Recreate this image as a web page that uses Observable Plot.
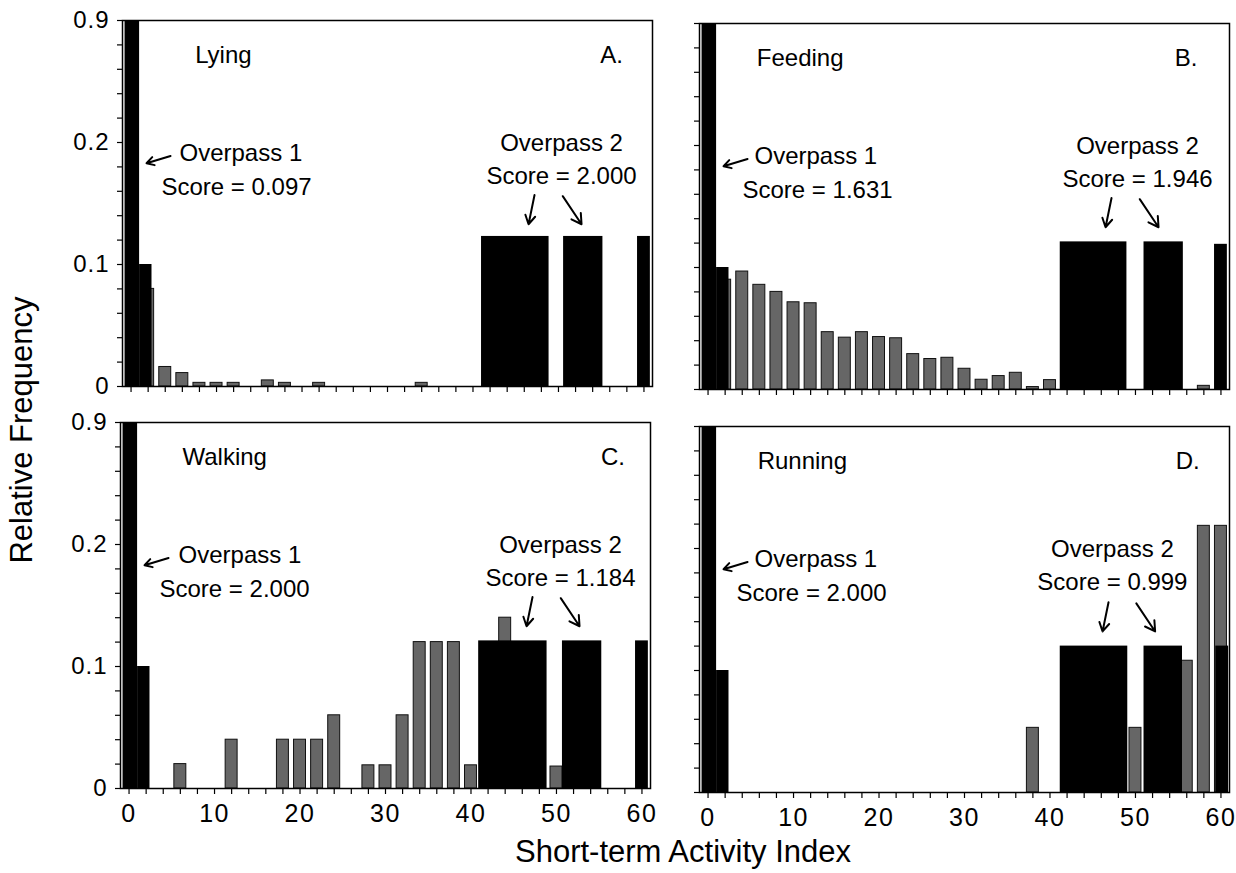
<!DOCTYPE html>
<html>
<head>
<meta charset="utf-8">
<script src="https://cdn.jsdelivr.net/npm/d3@7"></script>
<script src="https://cdn.jsdelivr.net/npm/@observablehq/plot@0.6"></script>
<style>
  body { margin: 0; background: #fff; font-family: "Liberation Sans", Arial, Helvetica, sans-serif; color: #000; }
  #chart { position: relative; width: 1236px; height: 873px; overflow: hidden; background: #fff; }
  #chart svg { position: absolute; overflow: visible; }
  [aria-label="x-axis tick label"] text { letter-spacing: 1.5px; }
  [aria-label="y-axis tick label"] text { letter-spacing: 1px; }
  .ytitle { position: absolute; left: 21px; top: 430px; transform: translate(-50%, -50%) rotate(-90deg); font-size: 31px; white-space: nowrap; line-height: 1; }
  .xtitle { position: absolute; left: 683px; top: 836px; transform: translateX(-50%); font-size: 31px; white-space: nowrap; line-height: 1; }
</style>
</head>
<body>
<div id="chart"></div>
<script>
// ---------- data ----------
const behaviours = ["Lying", "Feeding", "Walking", "Running"];
const panelLetters = ["A.", "B.", "C.", "D."];
const overpass1Scores = ["0.097", "1.631", "2.000", "2.000"];
const overpass2Scores = ["2.000", "1.946", "1.184", "0.999"];

// hatched (grey) bars: short-term activity index and relative frequency
const lyingIndex   = [2, 4, 6, 8, 10, 12, 16, 18, 22, 34];
const lyingFreq    = [0.08, 0.016, 0.011, 0.003, 0.003, 0.003, 0.005, 0.003, 0.003, 0.003];
const feedingIndex = [2, 4, 6, 8, 10, 12, 14, 16, 18, 20, 22, 24, 26, 28, 30, 32, 34, 36, 38, 40, 58];
const feedingFreq  = [0.09, 0.0967, 0.0858, 0.080, 0.0715, 0.0707, 0.047, 0.0425, 0.047, 0.043, 0.042,
                      0.029, 0.025, 0.026, 0.017, 0.008, 0.011, 0.0137, 0.002, 0.0077, 0.003];
const walkingIndex = [6, 12, 18, 20, 22, 24, 28, 30, 32, 34, 36, 38, 40, 44, 50];
const walkingFreq  = [0.02, 0.04, 0.04, 0.04, 0.04, 0.06, 0.019, 0.019, 0.06, 0.12, 0.12, 0.12, 0.019, 0.14, 0.018];
const runningIndex = [38, 50, 56, 58, 60];
const runningFreq  = [0.053, 0.053, 0.108, 0.33, 0.33];

// solid black bars, Overpass 1 (same in every panel)
const overpass1Start = [-0.7, 1.0];
const overpass1End   = [1.0, 2.45];
const overpass1Freq  = [0.9, 0.1];

// solid black bars, Overpass 2 (per panel)
const overpass2Start = [[41.0, 50.6, 59.25], [41.2, 51.0, 59.25], [40.9, 50.7, 59.25], [41.2, 51.0, 59.4]];
const overpass2End   = [[48.9, 55.2, 60.75], [49.0, 55.6, 60.75], [48.9, 55.3, 60.75], [49.1, 55.5, 60.9]];
const overpass2Freq  = [[0.123, 0.123, 0.123], [0.121, 0.121, 0.119], [0.121, 0.121, 0.121], [0.12, 0.12, 0.12]];

// axes (broken y axis: 0 – 0.2, then 0.2 – 0.9 compressed)
const xTicks = [0,2,4,6,8,10,12,14,16,18,20,22,24,26,28,30,32,34,36,38,40,42,44,46,48,50,52,54,56,58,60];
const xTickLabels = [0, 10, 20, 30, 40, 50, 60];
const yTicks = [0, 0.02, 0.04, 0.06, 0.08, 0.1, 0.12, 0.14, 0.16, 0.18, 0.2, 0.34, 0.48, 0.62, 0.76, 0.9];
const yTickLabels = [0, 0.1, 0.2, 0.9];
const yTickText = ["0", "0.1", "0.2", "0.9"];
const yBreak = [0, 0.2, 0.9];

// annotation anchors (data units)
const titleX    = [7.5, 5.7, 6.25, 5.8];
const letterX   = [54.9, 54.6, 55.2, 54.7];
const op1TextX  = [5.67, 5.43, 5.79, 5.43];
const op1ScoreX = [3.56, 4.03, 3.56, 3.33];
const op2TextX  = [50.36, 50.24, 50.47, 47.3];
const arrow1    = [4.62, 0.189, 1.81, 0.183];
const arrow2L   = [[47.2, 0.157, 46.5, 0.133], [47.2, 0.157, 46.5, 0.133], [47.2, 0.157, 46.5, 0.133], [46.85, 0.156, 46.15, 0.132]];
const arrow2R   = [[50.5, 0.156, 52.7, 0.133], [50.5, 0.156, 52.7, 0.133], [50.5, 0.156, 52.7, 0.133], [50.1, 0.155, 52.3, 0.132]];

const grayIndex = [lyingIndex, feedingIndex, walkingIndex, runningIndex];
const grayFreq  = [lyingFreq, feedingFreq, walkingFreq, runningFreq];

// ---------- layout ----------
const W = 530, H = 366, mL = 64, mR = 14, mT = 12, mB = 50;
const frames = [[122, 20], [699, 23], [120, 422], [699, 426]];
const chart = document.getElementById("chart");
const FONT = "Liberation Sans, Arial, Helvetica, sans-serif";

function drawPanel(i) {
  const gray = grayIndex[i].map((x, j) => ({x, v: grayFreq[i][j]}));
  const op1 = overpass1Start.map((s, j) => ({s, e: overpass1End[j], v: overpass1Freq[j]}));
  const op2 = overpass2Start[i].map((s, j) => ({s, e: overpass2End[i][j], v: overpass2Freq[i][j]}));
  const bottomRow = i >= 2, leftCol = i % 2 === 0;

  const textsStart = [
    {x: titleX[i], y: 0.655, t: behaviours[i]},
    {x: letterX[i], y: 0.655, t: panelLetters[i]},
    {x: op1TextX[i], y: 0.185, t: "Overpass 1"},
    {x: op1ScoreX[i], y: 0.157, t: "Score = " + overpass1Scores[i]}
  ];
  const textsMiddle = [
    {x: op2TextX[i], y: 0.193, t: "Overpass 2"},
    {x: op2TextX[i], y: 0.166, t: "Score = " + overpass2Scores[i]}
  ];
  const arrows = [arrow1, arrow2L[i], arrow2R[i]].map(a => ({x1: a[0], y1: a[1], x2: a[2], y2: a[3]}));

  const marks = [
    Plot.rect(gray, {x1: d => d.x - 0.7, x2: d => d.x + 0.7, y1: 0, y2: d => d.v, fill: "#666", stroke: "#111", strokeWidth: 1}),
    Plot.rect(op1, {x1: d => d.s, x2: d => d.e, y1: 0, y2: d => d.v, fill: "#000"}),
    Plot.rect(op2, {x1: d => d.s, x2: d => d.e, y1: 0, y2: d => d.v, fill: "#000"}),
    Plot.frame({stroke: "#000", strokeWidth: 1.5}),
    Plot.axisX(xTicks, {anchor: "bottom", tickSize: 6, tickFormat: () => "", label: null, strokeWidth: 1.2}),
    Plot.axisY(yTicks, {anchor: "left", tickSize: 5, tickFormat: () => "", label: null, strokeWidth: 1.2}),
    Plot.text(textsStart, {x: "x", y: "y", text: "t", fontSize: 24, textAnchor: "start", lineAnchor: "bottom", fill: "#000"}),
    Plot.text(textsMiddle, {x: "x", y: "y", text: "t", fontSize: 24, textAnchor: "middle", lineAnchor: "bottom", fill: "#000"}),
    Plot.arrow(arrows, {x1: "x1", y1: "y1", x2: "x2", y2: "y2", stroke: "#000", strokeWidth: 2, headLength: 9})
  ];
  if (bottomRow) marks.push(Plot.axisX(xTickLabels, {anchor: "bottom", tickSize: 0, tickPadding: 16, fontSize: 25, label: null, tickFormat: d => String(d)}));
  if (leftCol) marks.push(Plot.axisY(yTickLabels, {anchor: "left", tickSize: 0, tickPadding: 13, fontSize: 24, label: null, tickFormat: d => yTickText[yTickLabels.indexOf(d)]}));

  const svg = Plot.plot({
    width: W + mL + mR,
    height: H + mT + mB,
    marginLeft: mL, marginRight: mR, marginTop: mT, marginBottom: mB,
    style: {fontFamily: FONT, background: "transparent", color: "#000"},
    x: {type: "linear", domain: [-1, 61]},
    y: {type: "linear", domain: yBreak, range: [mT + H, mT + H / 3, mT], clamp: true},
    marks
  });
  svg.style.left = (frames[i][0] - mL) + "px";
  svg.style.top = (frames[i][1] - mT) + "px";
  chart.appendChild(svg);
}

for (let i = 0; i < 4; i++) drawPanel(i);

const yt = document.createElement("div");
yt.className = "ytitle";
yt.textContent = "Relative Frequency";
chart.appendChild(yt);
const xt = document.createElement("div");
xt.className = "xtitle";
xt.textContent = "Short-term Activity Index";
chart.appendChild(xt);
</script>
</body>
</html>
